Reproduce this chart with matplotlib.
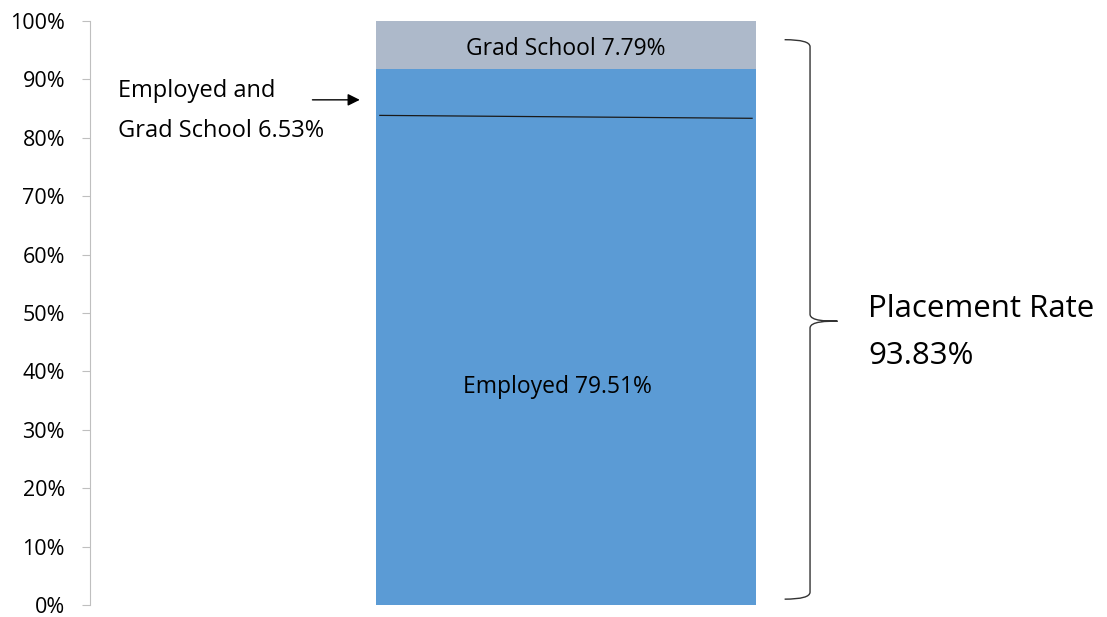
import matplotlib.pyplot as plt
from matplotlib.path import Path
from matplotlib.patches import PathPatch
from matplotlib.ticker import PercentFormatter

plt.rcParams['font.family'] = ['Open Sans', 'DejaVu Sans']

# raw shares of graduates (percent)
segments = ['Employed', 'Employed and Grad School', 'Grad School']
values = [79.51, 6.53, 7.79]
colors = ['#5B9BD5', '#5B9BD5', '#ADB9CA']
placement_rate = 93.83

# bar is scaled so the placed graduates fill 100%
shares = [v / placement_rate * 100 for v in values]

fig = plt.figure(figsize=(11.07, 6.17), dpi=100)
ax = fig.add_axes([90 / 1107, 12 / 617, 1017 / 1107, 584 / 617])

bx = 0.468
bw = 0.374
bottom = 0
for name, s, c in zip(segments, shares, colors):
    ax.bar(bx, s, width=bw, bottom=bottom, color=c, edgecolor='none')
    bottom += s

# thin line between employed and employed+grad
ax.plot([bx - bw / 2 + 0.004, bx + bw / 2 - 0.004], [shares[0] - 0.9, shares[0] - 1.4],
        color='#1a1a1a', lw=0.9)

ax.text(bx, shares[0] + shares[1] + shares[2] / 2 - 0.6, 'Grad School %.2f%%' % values[2],
        ha='center', va='center', fontsize=16.5)
ax.text(bx - 0.008, 37.3, 'Employed %.2f%%' % values[0],
        ha='center', va='center', fontsize=16.5)

ax.text(0.0275, 88.0, 'Employed and', ha='left', va='center', fontsize=17)
ax.text(0.0275, 81.2, 'Grad School %.2f%%' % values[1], ha='left', va='center', fontsize=17)
ax.annotate('', xy=(0.268, 86.5), xytext=(0.216, 86.5),
            arrowprops=dict(arrowstyle='-|>', color='black', lw=1, mutation_scale=18))

# curly brace for placement rate
xb, xe, xt = 0.708, 0.683, 0.735
yt, yb, ym = 96.8, 1.0, 48.6
verts = [(xe, yt), (xb, yt), (xb, yt - 1.2),
         (xb, ym + 1.2),
         (xb, ym), (xt - 0.01, ym), (xt, ym),
         (xt - 0.01, ym), (xb, ym), (xb, ym - 1.2),
         (xb, yb + 1.2),
         (xb, yb), (xe, yb)]
codes = [Path.MOVETO, Path.CURVE3, Path.CURVE3,
         Path.LINETO,
         Path.CURVE4, Path.CURVE4, Path.CURVE4,
         Path.CURVE4, Path.CURVE4, Path.CURVE4,
         Path.LINETO,
         Path.CURVE3, Path.CURVE3]
ax.add_patch(PathPatch(Path(verts, codes), fill=False, color='#333333', lw=1))

ax.text(0.765, 50.6, 'Placement Rate', ha='left', va='center', fontsize=22.5, clip_on=False)
ax.text(0.765, 42.6, '%.2f%%' % placement_rate, ha='left', va='center', fontsize=22.5)

ax.set_xlim(0, 1)
ax.set_ylim(0, 100)
ax.set_yticks(range(0, 101, 10))
ax.yaxis.set_major_formatter(PercentFormatter(decimals=0))
ax.set_xticks([])
for s in ['top', 'right', 'bottom']:
    ax.spines[s].set_visible(False)
ax.spines['left'].set_color('#BFBFBF')
ax.tick_params(axis='y', length=6, color='#BFBFBF', labelsize=15.5, pad=12)

fig.savefig('out.png')
